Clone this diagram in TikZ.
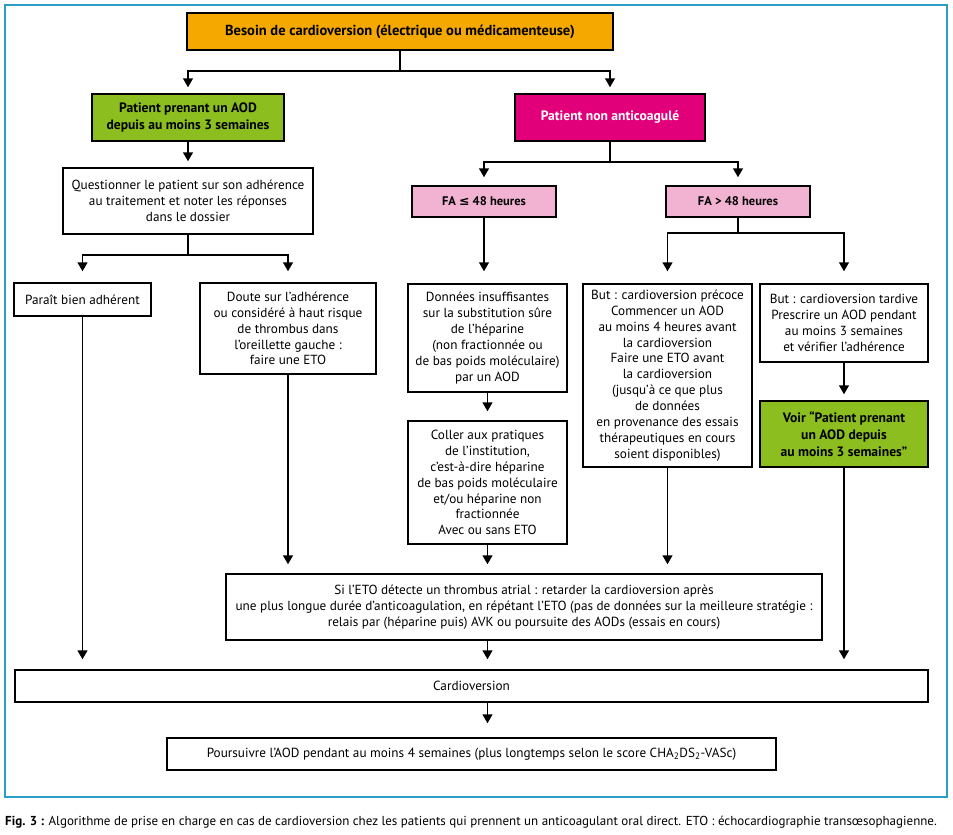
\documentclass[tikz,border=0pt]{standalone}
\usepackage{fontspec}
\setmainfont{PT Sans}
\newfontfamily\symfont{DejaVu Sans}
\usetikzlibrary{arrows.meta}

\definecolor{cvorange}{RGB}{245,168,0}
\definecolor{cvgreen}{RGB}{141,190,31}
\definecolor{cvmagenta}{RGB}{226,0,122}
\definecolor{cvpink}{RGB}{242,178,210}
\definecolor{cvframe}{RGB}{42,158,200}

\tikzset{
  box/.style={draw, line width=1.5pt, align=center, inner sep=2pt,
    font=\fontsize{13.2}{15.9}\selectfont},
  hbox/.style={box, font=\bfseries\fontsize{13.6}{17}\selectfont},
  link/.style={line width=1.5pt},
  arr/.style={link, -{Triangle[length=9pt,width=10pt]}, shorten >=8pt},
}

\begin{document}
\begin{tikzpicture}[x=1pt,y=1pt,yscale=-1]
\useasboundingbox (0,0) rectangle (953,835);

%Frame
\draw [cvframe, line width=2pt] (5,5) rectangle (947,797);

% Text Node
\node (besoin) [hbox, fill=cvorange, minimum width=426, minimum height=37, font=\bfseries\fontsize{14.5}{17}\selectfont] at (400,31.5) {Besoin de cardioversion (électrique ou médicamenteuse)};
% Text Node
\node (aod) [hbox, fill=cvgreen, minimum width=192, minimum height=47] at (188,117.5) {Patient prenant un AOD\\depuis au moins 3 semaines};
% Text Node
\node (nonac) [hbox, fill=cvmagenta, text=white, minimum width=190, minimum height=47] at (610,117.5) {Patient non anticoagulé};
% Text Node
\node (quest) [box, minimum width=250, minimum height=66] at (188,201) {Questionner le patient sur son adhérence\\au traitement et noter les réponses\\dans le dossier};
% Text Node
\node (parait) [box, minimum width=137, minimum height=33] at (82.5,299.5) {Paraît bien adhérent};
% Text Node
\node (doute) [box, minimum width=176, minimum height=91] at (288,328.5) {Doute sur l’adhérence\\ou considéré à haut risque\\de thrombus dans\\l’oreillette gauche :\\faire une ETO};
% Text Node
\node (fale) [hbox, fill=cvpink, minimum width=144, minimum height=31, font=\bfseries\fontsize{12.5}{17}\selectfont] at (484,201.5) {FA {\symfont ≤} 48 heures};
% Text Node
\node (fagt) [hbox, fill=cvpink, minimum width=144, minimum height=31, font=\bfseries\fontsize{12.5}{17}\selectfont] at (738,201.5) {FA > 48 heures};
% Text Node
\node (donnees) [box, minimum width=159, minimum height=108] at (487.5,338) {Données insuffisantes\\sur la substitution sûre\\de l’héparine\\(non fractionnée ou\\de bas poids moléculaire)\\par un AOD};
% Text Node
\node (coller) [box, minimum width=159, minimum height=123] at (487.5,482.5) {Coller aux pratiques\\de l’institution,\\c’est-à-dire héparine\\de bas poids moléculaire\\et/ou héparine non\\fractionnée\\Avec ou sans ETO};
% Text Node
\node (precoce) [box, minimum width=169, minimum height=183] at (667.5,375.5) {But : cardioversion précoce\\Commencer un AOD\\au moins 4 heures avant\\la cardioversion\\Faire une ETO avant\\la cardioversion\\(jusqu’à ce que plus\\de données\\en provenance des essais\\thérapeutiques en cours\\soient disponibles)};
% Text Node
\node (tardive) [box, minimum width=168, minimum height=78] at (844,323) {But : cardioversion tardive\\Prescrire un AOD pendant\\au moins 3 semaines\\et vérifier l’adhérence};
% Text Node
\node (voir) [hbox, fill=cvgreen, minimum width=168, minimum height=66] at (844,434) {Voir “Patient prenant\\un AOD depuis\\au moins 3 semaines”};
% Text Node
\node (si) [box, minimum width=596, minimum height=66] at (524,607) {Si l’ETO détecte un thrombus atrial : retarder la cardioversion après\\une plus longue durée d’anticoagulation, en répétant l’ETO (pas de données sur la meilleure stratégie :\\relais par (héparine puis) AVK ou poursuite des AODs (essais en cours)};
% Text Node
\node (cardio) [box, minimum width=913, minimum height=32] at (471.5,686) {Cardioversion};
% Text Node
\node (suite) [box, minimum width=609, minimum height=32] at (471.5,754) {Poursuivre l’AOD pendant au moins 4 semaines (plus longtemps selon le score CHA\textsubscript{2}DS\textsubscript{2}-VASc)};
% Text Node
\node (legende) [anchor=west, inner sep=0pt, font=\fontsize{13}{15}\selectfont] at (5,822) {\textbf{Fig. 3 :} Algorithme de prise en charge en cas de cardioversion chez les patients qui prennent un anticoagulant oral direct. ETO : échocardiographie transœsophagienne.};

%Straight Lines
\coordinate (j1) at (400,71);
\draw [link] (besoin.south) -- (j1);
\draw [arr, shorten >=6pt] (j1) -| (aod.north);
\draw [arr, shorten >=6pt] (j1) -| (nonac.north);
\draw [arr, shorten >=6pt] (aod.south) -- (quest.north);

\coordinate (j2) at (188,255);
\draw [link] (quest.south) -- (j2);
\draw [arr, shorten >=11pt] (j2) -| (parait.north);
\draw [arr, shorten >=11pt] (j2) -| (doute.north);

\coordinate (j3) at (610,162);
\draw [link] (nonac.south) -- (j3);
\draw [arr] (j3) -| (fale.north);
\draw [arr] (j3) -| (fagt.north);
\draw [arr, shorten >=12pt] (fale.south) -- (fale.south |- donnees.north);

\coordinate (j4) at (738,233);
\draw [link] (fagt.south) -- (j4);
\draw [arr, shorten >=12pt] (j4) -| (precoce.north);
\draw [arr, shorten >=12pt] (j4) -| (tardive.north);
\draw [arr, shorten >=6pt] (tardive.south) -- (voir.north);
\draw [arr, shorten >=9pt] (donnees.south) -- (coller.north);

\draw [arr, shorten >=9pt] (doute.south) -- (doute.south |- si.north);
\draw [arr, shorten >=9pt] (coller.south) -- (coller.south |- si.north);
\draw [arr, shorten >=9pt] (precoce.south) -- (precoce.south |- si.north);

\draw [arr, shorten >=10pt] (parait.south) -- (parait.south |- cardio.north);
\draw [arr, shorten >=10pt] (coller.south |- si.south) -- (coller.south |- cardio.north);
\draw [arr, shorten >=10pt] (voir.south) -- (voir.south |- cardio.north);
\draw [arr, shorten >=14pt] (coller.south |- cardio.south) -- (coller.south |- suite.north);

\end{tikzpicture}
\end{document}
